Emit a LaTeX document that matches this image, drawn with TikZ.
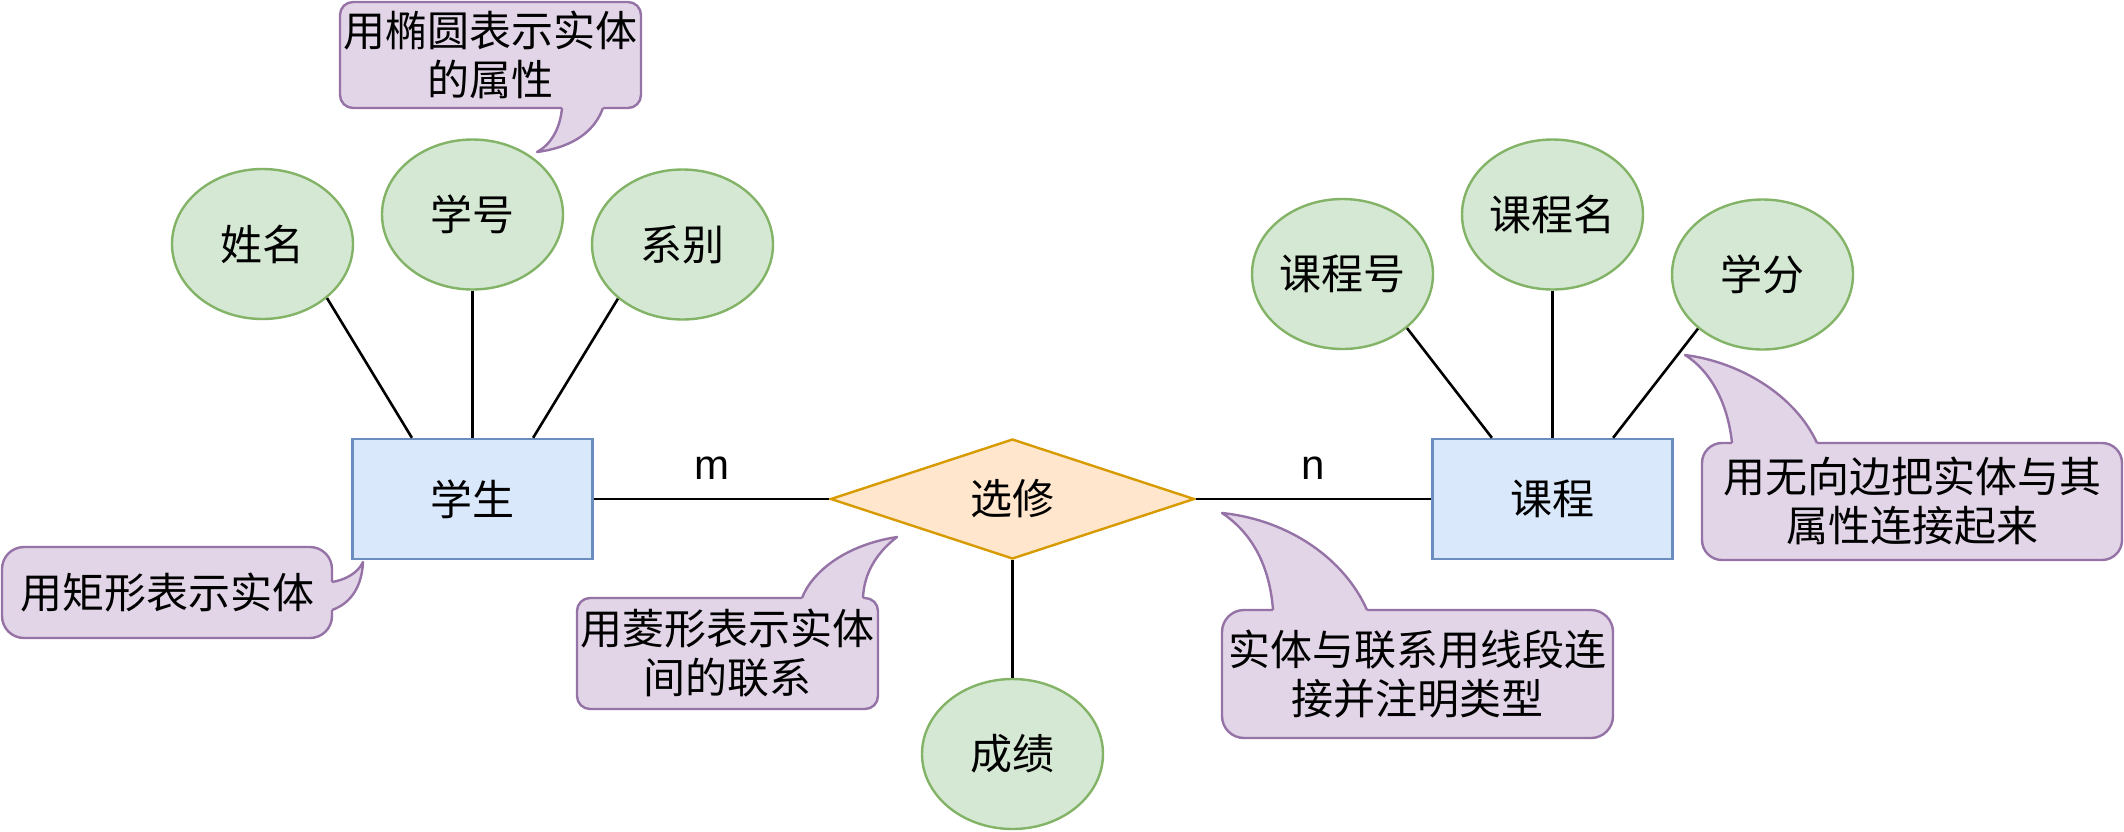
\documentclass[tikz,border=0pt]{standalone}
\usepackage{fontspec}
\newfontfamily\cjk{Noto Sans CJK SC}
\newfontfamily\lat{Liberation Sans}
\usetikzlibrary{shapes.geometric,calc}
\definecolor{bfill}{HTML}{DAE8FC}
\definecolor{bdraw}{HTML}{6C8EBF}
\definecolor{gfill}{HTML}{D5E8D4}
\definecolor{gdraw}{HTML}{82B366}
\definecolor{ofill}{HTML}{FFE6CC}
\definecolor{odraw}{HTML}{D79B00}
\definecolor{pfill}{HTML}{E1D5E7}
\definecolor{pdraw}{HTML}{9673A6}
\begin{document}
\begin{tikzpicture}[x=0.5pt,y=-0.5pt,
  every node/.style={font=\cjk\fontsize{21pt}{24.5pt}\selectfont, text=black},
  entity/.style={draw=bdraw, fill=bfill, line width=1.2pt, minimum width=120pt, minimum height=60pt, inner sep=0pt},
  attr/.style={ellipse, draw=gdraw, fill=gfill, line width=1.2pt, minimum width=90.5pt, minimum height=75pt, inner sep=0pt},
  rel/.style={diamond, shape aspect=3, draw=odraw, fill=ofill, line width=1.2pt, minimum width=182pt, minimum height=60pt, inner sep=0pt},
  link/.style={line width=1.3pt, draw=black},
  lbl/.style={font=\lat\fontsize{21pt}{24pt}\selectfont, inner sep=0pt},
  note/.style={draw=pdraw, fill=pfill, line width=1.2pt, inner sep=0pt, align=center},
  tailfill/.style={fill=pfill},
  tailline/.style={draw=pdraw, line width=1.2pt, line join=round}
]
\useasboundingbox (0,0) rectangle (2124,831);

% entities, relationship
\node[entity] (st) at (472.5,499) {学生};
\node[entity] (kc) at (1552.5,499) {课程};
\node[rel] (sel) at (1012.5,499) {选修};

% attributes
\node[attr] (xm) at (262.5,244) {姓名};
\node[attr] (xh) at (472.5,214.5) {学号};
\node[attr] (xb) at (682.5,244.5) {系别};
\node[attr] (ch) at (1342.5,274) {课程号};
\node[attr] (cm) at (1552.5,214.5) {课程名};
\node[attr] (cx) at (1762.5,274.5) {学分};
\node[attr] (cj) at (1012.5,754) {成绩};

% connectors
\draw[link] (xm.-40) -- ($(st.north west)!0.25!(st.north east)$);
\draw[link] (xh.south) -- (st.north);
\draw[link] (xb.-140) -- ($(st.north west)!0.75!(st.north east)$);
\draw[link] (ch.-40) -- ($(kc.north west)!0.25!(kc.north east)$);
\draw[link] (cm.south) -- (kc.north);
\draw[link] (cx.-140) -- ($(kc.north west)!0.75!(kc.north east)$);
\draw[link] (st.east) -- node[lbl, midway, above=9pt] (lm) {m} (sel.west);
\draw[link] (sel.east) -- node[lbl, midway, above=9pt] (ln) {n} (kc.west);
\draw[link] (sel.south) -- (cj.north);

% callout 1 (top)
\node[note, minimum width=150.5pt, minimum height=53pt, rounded corners=6.5pt] (c1) at (490.5,55) {用椭圆表示实体\\的属性};
\fill[tailfill] (562,104) -- (562,108) .. controls (560,130) and (550,145) .. (537,152) .. controls (575,147) and (595,130) .. (603,108) -- (603,104) -- cycle;
\draw[tailline] (562,108) .. controls (560,130) and (550,145) .. (537,152) .. controls (575,147) and (595,130) .. (603,108);

% callout 2 (rectangle)
\node[note, minimum width=165pt, minimum height=45.5pt, rounded corners=11pt] (c2) at (167,592.5) {用矩形表示实体};
\fill[tailfill] (328,582) -- (332,582) .. controls (345,580) and (358,573) .. (363,562) .. controls (362,585) and (352,603) .. (332,610) -- (328,610) -- cycle;
\draw[tailline] (332,582) .. controls (345,580) and (358,573) .. (363,562) .. controls (362,585) and (352,603) .. (332,610);

% callout 3 (diamond)
\node[note, minimum width=150.5pt, minimum height=55.5pt, rounded corners=6.5pt] (c3) at (727.5,653.5) {用菱形表示实体\\间的联系};
\fill[tailfill] (802,602) -- (802,598) .. controls (812,572) and (845,545) .. (897,537) .. controls (880,550) and (864,570) .. (863,598) -- (863,602) -- cycle;
\draw[tailline] (802,598) .. controls (812,572) and (845,545) .. (897,537) .. controls (880,550) and (864,570) .. (863,598);

% callout 4 (lines)
\node[note, minimum width=195.5pt, minimum height=64pt, rounded corners=11pt] (c4) at (1417.5,674) {实体与联系用线段连\\接并注明类型};
\fill[tailfill] (1273,614) -- (1273,610) .. controls (1270,570) and (1255,535) .. (1222,513) .. controls (1290,520) and (1345,560) .. (1367,610) -- (1367,614) -- cycle;
\draw[tailline] (1273,610) .. controls (1270,570) and (1255,535) .. (1222,513) .. controls (1290,520) and (1345,560) .. (1367,610);

% callout 5 (undirected edges)
\node[note, minimum width=210pt, minimum height=58.5pt, rounded corners=10pt] (c5) at (1912,501.5) {用无向边把实体与其\\属性连接起来};
\fill[tailfill] (1732,447) -- (1732,443) .. controls (1728,405) and (1712,372) .. (1685,355) .. controls (1740,362) and (1795,395) .. (1817,443) -- (1817,447) -- cycle;
\draw[tailline] (1732,443) .. controls (1728,405) and (1712,372) .. (1685,355) .. controls (1740,362) and (1795,395) .. (1817,443);
\end{tikzpicture}
\end{document}
